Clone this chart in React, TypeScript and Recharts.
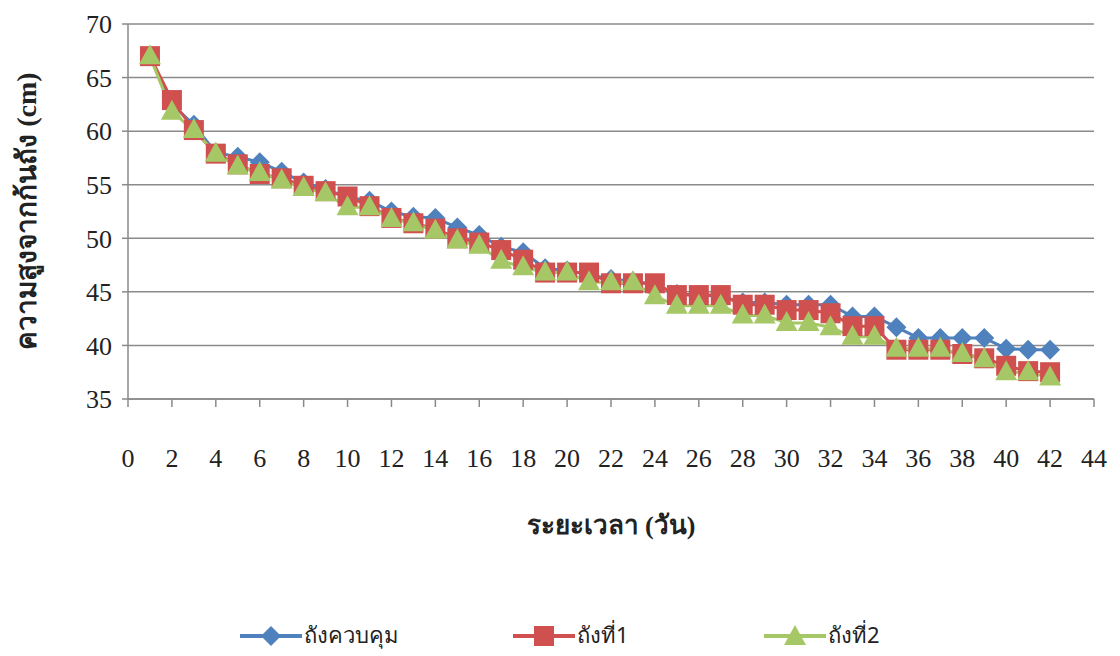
import React from 'react';
import { LineChart, Line, XAxis, YAxis, CartesianGrid, Legend } from 'recharts';

const days = [1, 2, 3, 4, 5, 6, 7, 8, 9, 10, 11, 12, 13, 14, 15, 16, 17, 18, 19, 20, 21, 22, 23, 24, 25, 26, 27, 28, 29, 30, 31, 32, 33, 34, 35, 36, 37, 38, 39, 40, 41, 42];
const control = [67, 62.5, 60.6, 58, 57.6, 57.1, 56.2, 55.2, 54.6, 53.8, 53.5, 52.5, 52, 51.9, 51, 50.3, 49.2, 48.7, 47.2, 47, 46.6, 46.2, 46, 45.7, 44.8, 44.7, 44.6, 44, 44, 43.8, 43.8, 43.8, 42.7, 42.7, 41.7, 40.7, 40.7, 40.7, 40.7, 39.7, 39.6, 39.6];
const tank1 = [67, 62.9, 60.1, 57.9, 56.9, 56, 55.6, 54.9, 54.4, 53.9, 53, 51.9, 51.4, 50.9, 50, 49.6, 48.9, 48, 46.8, 46.8, 46.8, 45.8, 45.8, 45.8, 44.7, 44.7, 44.7, 43.8, 43.8, 43.3, 43.3, 43, 41.8, 41.8, 39.6, 39.6, 39.6, 39.2, 38.8, 38.1, 37.6, 37.5];
const tank2 = [67, 61.8, 60.1, 57.9, 56.7, 56.1, 55.4, 54.7, 54.2, 52.9, 52.9, 51.8, 51.4, 50.7, 49.8, 49.3, 47.9, 47.3, 46.8, 46.8, 45.9, 45.9, 45.9, 44.6, 43.7, 43.7, 43.7, 42.8, 42.8, 42.1, 42.1, 41.7, 40.8, 40.8, 39.7, 39.7, 39.7, 39.2, 38.7, 37.5, 37.5, 37];
const xTicks = [0, 2, 4, 6, 8, 10, 12, 14, 16, 18, 20, 22, 24, 26, 28, 30, 32, 34, 36, 38, 40, 42, 44];
const yTicks = [35, 40, 45, 50, 55, 60, 65, 70];
const seriesNames = ['ถังควบคุม', 'ถังที่1', 'ถังที่2'];

const BLUE = '#4F81BD';
const RED = '#D0504F';
const GREEN = '#A6C766';

const data = days.map((d, i) => ({ day: d, control: control[i], tank1: tank1[i], tank2: tank2[i] }));

const Diamond = (props: any) => {
  const { cx, cy, fill } = props;
  if (cx == null || cy == null) return null;
  const r = 10;
  return <path d={`M${cx},${cy - r} L${cx + r},${cy} L${cx},${cy + r} L${cx - r},${cy} Z`} fill={fill} />;
};

const Square = (props: any) => {
  const { cx, cy, fill } = props;
  if (cx == null || cy == null) return null;
  const s = 10;
  return <rect x={cx - s} y={cy - s} width={s * 2} height={s * 2} fill={fill} />;
};

const Triangle = (props: any) => {
  const { cx, cy, fill } = props;
  if (cx == null || cy == null) return null;
  return <path d={`M${cx},${cy - 12} L${cx + 11},${cy + 8} L${cx - 11},${cy + 8} Z`} fill={fill} />;
};

const legendItems = [
  { name: seriesNames[0], color: BLUE, marker: 'diamond', x: 240 },
  { name: seriesNames[1], color: RED, marker: 'square', x: 513 },
  { name: seriesNames[2], color: GREEN, marker: 'triangle', x: 764 },
];

const CustomLegend = () => (
  <div style={{ position: 'relative', width: 1120, height: 40 }}>
    {legendItems.map((it) => (
      <div key={it.name} style={{ position: 'absolute', left: it.x, top: 0, display: 'flex', alignItems: 'center' }}>
        <svg width={62} height={30}>
          <line x1={0} y1={15} x2={62} y2={15} stroke={it.color} strokeWidth={4} />
          {it.marker === 'diamond' && <Diamond cx={31} cy={15} fill={it.color} />}
          {it.marker === 'square' && <Square cx={31} cy={15} fill={it.color} />}
          {it.marker === 'triangle' && <Triangle cx={31} cy={16} fill={it.color} />}
        </svg>
        <span style={{ fontFamily: 'Tahoma, "Noto Sans", sans-serif', fontSize: 22, color: '#222', marginLeft: 2 }}>{it.name}</span>
      </div>
    ))}
  </div>
);

const App: React.FC = () => {
  return (
    <div style={{ position: 'absolute', left: 0, top: 0, width: 1120, height: 656, background: '#fff' }}>
      <LineChart width={1120} height={656} data={data} margin={{ top: 24, right: 26, bottom: 177, left: 68 }}>
        <CartesianGrid horizontal={true} vertical={false} stroke="#8a8a8a" strokeWidth={1.5} />
        <XAxis
          dataKey="day"
          type="number"
          domain={[0, 44]}
          ticks={xTicks}
          interval={0}
          axisLine={{ stroke: '#8a8a8a', strokeWidth: 1.5 }}
          tickLine={{ stroke: '#8a8a8a', strokeWidth: 1.5 }}
          tickSize={8}
          tickMargin={42}
          height={40}
          tick={{ fontFamily: '"Liberation Serif", "Times New Roman", serif', fontSize: 26, fill: '#222' }}
          label={{
            content: () => (
              <text x={611} y={534} textAnchor="middle" fontFamily='"Liberation Serif", serif' fontWeight="bold" fontSize={26} fill="#222">
                ระยะเวลา (วัน)
              </text>
            ),
          }}
        />
        <YAxis
          type="number"
          domain={[35, 70]}
          ticks={yTicks}
          interval={0}
          width={60}
          axisLine={{ stroke: '#8a8a8a', strokeWidth: 1.5 }}
          tickLine={{ stroke: '#8a8a8a', strokeWidth: 1.5 }}
          tickSize={6}
          tickMargin={10}
          tick={{ fontFamily: '"Liberation Serif", "Times New Roman", serif', fontSize: 26, fill: '#222' }}
          label={{
            content: () => (
              <text x={36} y={211} textAnchor="middle" transform="rotate(-90 36 211)" fontFamily='"Liberation Serif", serif' fontWeight="bold" fontSize={28} fill="#222">
                ความสูงจากก้นถัง (cm)
              </text>
            ),
          }}
        />
        <Line type="linear" dataKey="control" name={seriesNames[0]} stroke={BLUE} strokeWidth={3} dot={<Diamond fill={BLUE} />} isAnimationActive={false} />
        <Line type="linear" dataKey="tank1" name={seriesNames[1]} stroke={RED} strokeWidth={3} dot={<Square fill={RED} />} isAnimationActive={false} />
        <Line type="linear" dataKey="tank2" name={seriesNames[2]} stroke={GREEN} strokeWidth={3} dot={<Triangle fill={GREEN} />} isAnimationActive={false} />
        <Legend content={<CustomLegend />} wrapperStyle={{ position: 'absolute', left: 0, top: 618, width: 1120 }} />
      </LineChart>
    </div>
  );
};

export default App;
